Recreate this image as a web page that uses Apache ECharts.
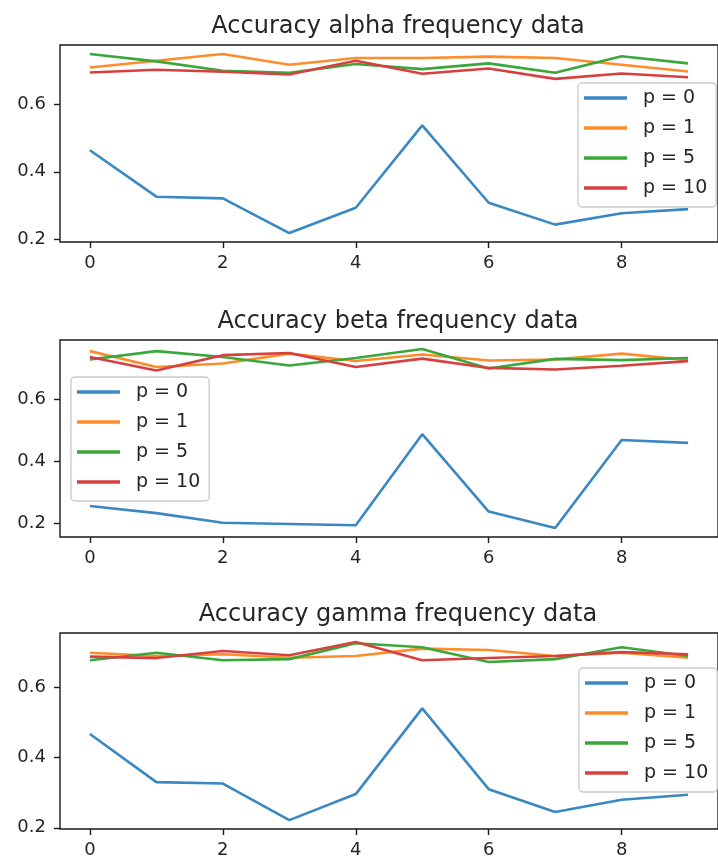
<!DOCTYPE html>
<html>
<head>
<meta charset="utf-8">
<script src="https://cdn.jsdelivr.net/npm/echarts@6/dist/echarts.min.js"></script>
<style>html,body{margin:0;padding:0;background:#fff;}#c{width:718px;height:859px;}</style>
</head>
<body>
<div id="c"></div>
<script>
// ---- data ----
const xs = [0,1,2,3,4,5,6,7,8,9];
const seriesNames = ['p = 0','p = 1','p = 5','p = 10'];
const titles = ['Accuracy alpha frequency data','Accuracy beta frequency data','Accuracy gamma frequency data'];
const xTicks = [0,2,4,6,8];
const yTicks = [0.2,0.4,0.6];

const alphaP0  = [0.464,0.326,0.321,0.218,0.293,0.538,0.308,0.243,0.277,0.289];
const alphaP1  = [0.710,0.730,0.750,0.718,0.738,0.738,0.742,0.738,0.718,0.698];
const alphaP5  = [0.750,0.728,0.700,0.694,0.720,0.705,0.722,0.694,0.743,0.722];
const alphaP10 = [0.695,0.703,0.697,0.689,0.730,0.691,0.707,0.676,0.692,0.681];

const betaP0  = [0.257,0.234,0.203,0.199,0.195,0.488,0.239,0.186,0.469,0.460];
const betaP1  = [0.755,0.704,0.715,0.747,0.723,0.744,0.725,0.728,0.747,0.726];
const betaP5  = [0.728,0.755,0.736,0.709,0.733,0.762,0.699,0.730,0.726,0.733];
const betaP10 = [0.736,0.693,0.742,0.749,0.704,0.731,0.701,0.696,0.708,0.723];

const gammaP0  = [0.467,0.330,0.326,0.222,0.296,0.540,0.310,0.245,0.280,0.294];
const gammaP1  = [0.698,0.689,0.694,0.684,0.689,0.710,0.706,0.689,0.698,0.684];
const gammaP5  = [0.677,0.698,0.677,0.680,0.725,0.714,0.672,0.680,0.714,0.689];
const gammaP10 = [0.687,0.683,0.703,0.691,0.729,0.677,0.683,0.689,0.700,0.694];

const colors = ['#3a88c3','#ff8c2a','#3aa73a','#d84040'];
const panels = [
  [alphaP0, alphaP1, alphaP5, alphaP10],
  [betaP0, betaP1, betaP5, betaP10],
  [gammaP0, gammaP1, gammaP5, gammaP10]
];

// ---- layout ----
const gridTops = [45, 340, 633];
const gridH = 197, gridL = 60, gridW = 672;
const legendPos = [{left:578, top:83},{left:71, top:377},{left:579, top:668}];
const txt = '#262626';
const FONT = 'DejaVu Sans';

const grids = [], xAxes = [], yAxes = [], series = [], titleArr = [], legends = [];
panels.forEach((p, k) => {
  let all = [].concat(...p);
  let mn = Math.min(...all), mx = Math.max(...all), r = mx - mn;
  grids.push({left: gridL, top: gridTops[k], width: gridW, height: gridH, show: true,
    borderColor: '#1a1a1a', borderWidth: 1.4, backgroundColor: 'transparent'});
  xAxes.push({type:'value', gridIndex:k, min:-0.45, max:9.45,
    axisLine:{show:false, onZero:false}, splitLine:{show:false},
    axisTick:{show:true, customValues:xTicks, length:6, lineStyle:{color:'#1a1a1a', width:1.4}},
    axisLabel:{customValues:xTicks, color:txt, fontSize:18, fontFamily:FONT, margin:12}});
  yAxes.push({type:'value', gridIndex:k, min:mn-0.05*r, max:mx+0.05*r,
    axisLine:{show:false, onZero:false}, splitLine:{show:false},
    axisTick:{show:true, customValues:yTicks, length:6, lineStyle:{color:'#1a1a1a', width:1.4}},
    axisLabel:{customValues:yTicks, color:txt, fontSize:18, fontFamily:FONT, margin:14,
      formatter:v=>v.toFixed(1)}});
  p.forEach((vals, j) => {
    series.push({type:'line', name:seriesNames[j], xAxisIndex:k, yAxisIndex:k,
      data: xs.map((x,i)=>[x, vals[i]]), showSymbol:false, symbol:'none',
      lineStyle:{color:colors[j], width:2.6}, itemStyle:{color:colors[j]},
      animation:false, z: 2+j});
  });
  titleArr.push({text:titles[k], left: gridL+333, top: gridTops[k]-35, textAlign:'center',
    textStyle:{fontSize:24, fontWeight:'normal', color:txt, fontFamily:FONT, lineHeight:24}});
  legends.push({orient:'vertical', left:legendPos[k].left, top:legendPos[k].top,
    data: seriesNames, icon:'rect', itemWidth:43, itemHeight:3.5, itemGap:10,
    padding:[5,9,9,6], backgroundColor:'rgba(255,255,255,0.8)', borderColor:'#cccccc',
    borderWidth:1.4, borderRadius:4, selectedMode:false,
    textStyle:{fontSize:19, color:txt, fontFamily:FONT, lineHeight:20, padding:[0,0,0,11]}});
});

const chart = echarts.init(document.getElementById('c'), null, {renderer:'canvas'});
chart.setOption({
  animation:false, backgroundColor:'#fff',
  title:titleArr, grid:grids, xAxis:xAxes, yAxis:yAxes, legend:legends, series:series
});
</script>
</body>
</html>
